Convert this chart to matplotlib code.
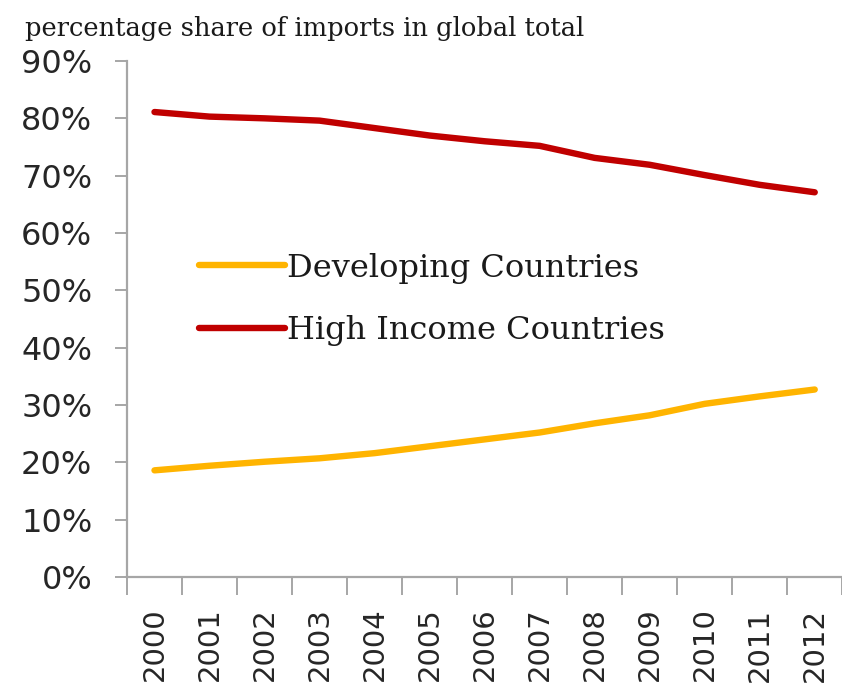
import matplotlib
matplotlib.use("Agg")
import matplotlib.pyplot as plt
from matplotlib.ticker import FixedLocator, PercentFormatter

years = [2000, 2001, 2002, 2003, 2004, 2005, 2006, 2007, 2008, 2009, 2010, 2011, 2012]
developing = [18.6, 19.4, 20.1, 20.7, 21.6, 22.8, 24.0, 25.2, 26.8, 28.2, 30.2, 31.5, 32.7]
high_income = [81.1, 80.3, 80.0, 79.6, 78.3, 77.0, 76.0, 75.2, 73.1, 71.9, 70.1, 68.4, 67.1]
series_names = ["Developing Countries", "High Income Countries"]
title_text = "percentage share of imports in global total"

fig = plt.figure(figsize=(8.42, 6.90), dpi=100)
ax = fig.add_axes([0.1508, 0.1638, 0.8495, 0.7478])

x = list(range(len(years)))
ax.plot(x, developing, color="#FFB400", lw=4.6, solid_capstyle="round",
        label=series_names[0])
ax.plot(x, high_income, color="#C00000", lw=4.6, solid_capstyle="round",
        label=series_names[1])

ax.set_xlim(-0.5, len(years) - 0.5)
ax.set_ylim(0, 90)
ax.yaxis.set_major_locator(FixedLocator(range(0, 91, 10)))
ax.yaxis.set_major_formatter(PercentFormatter(decimals=0))

ax.set_xticks(x)
ax.set_xticklabels([str(y) for y in years], rotation=90, va="top")
ax.set_xticks([i - 0.5 for i in range(len(years) + 1)], minor=True)

axis_grey = "#A6A6A6"
for side in ("top", "right"):
    ax.spines[side].set_visible(False)
for side in ("left", "bottom"):
    ax.spines[side].set_color(axis_grey)
    ax.spines[side].set_linewidth(1.6)

ax.tick_params(axis="y", direction="out", length=9, width=1.4, color=axis_grey,
               labelsize=23, labelcolor="#262626", pad=16)
ax.tick_params(axis="x", which="major", length=0, labelsize=21,
               labelcolor="#262626", pad=22)
ax.tick_params(axis="x", which="minor", direction="out", length=13, width=1.4,
               color=axis_grey)

fig.text(0.03, 0.958, title_text, family="DejaVu Serif", fontsize=18.5,
         color="#1a1a1a", va="center", ha="left")

leg = ax.legend(loc="upper left", bbox_to_anchor=(0.236, 0.634),
                bbox_transform=fig.transFigure, frameon=False,
                prop={"family": "DejaVu Serif", "size": 23},
                handlelength=2.7, handletextpad=0.05, labelspacing=0.98,
                borderaxespad=0, borderpad=0)
for t in leg.get_texts():
    t.set_color("#1a1a1a")

fig.savefig("out.png", dpi=100, facecolor="white")
